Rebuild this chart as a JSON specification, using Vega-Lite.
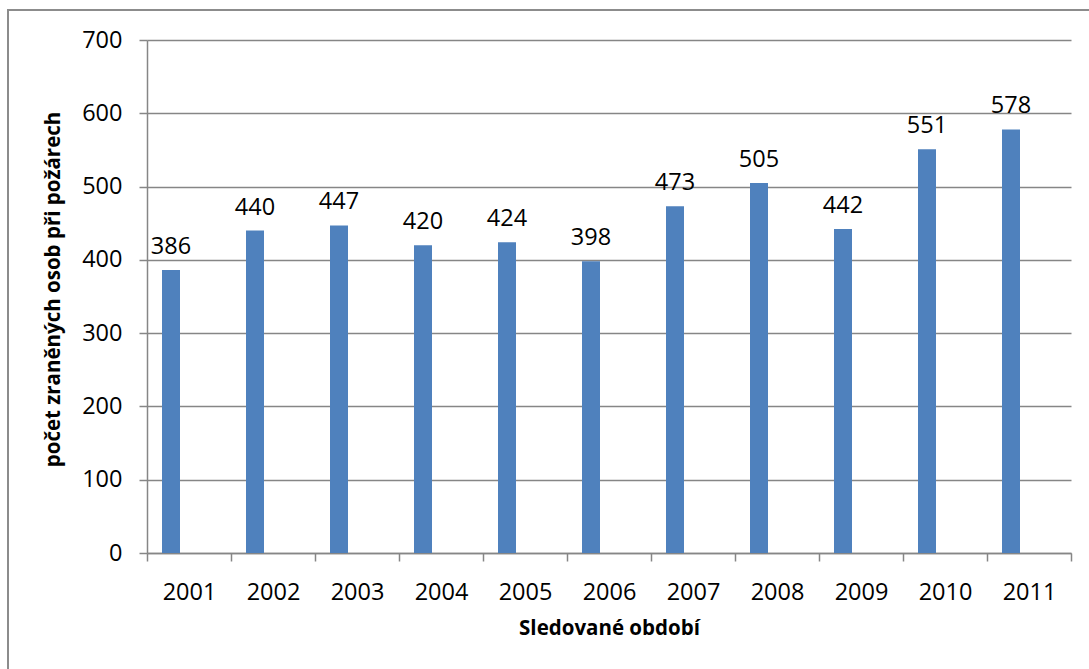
{
  "$schema": "https://vega.github.io/schema/vega-lite/v6.json",
  "width": 924,
  "height": 513,
  "autosize": {"type": "none"},
  "padding": {"left": 147, "top": 40, "right": 18, "bottom": 116},
  "background": "white",
  "config": {
    "view": {"stroke": null},
    "font": "Open Sans"
  },
  "data": {
    "values": [
      {"year": "2001", "value": 386, "series": "A"},
      {"year": "2002", "value": 440, "series": "A"},
      {"year": "2003", "value": 447, "series": "A"},
      {"year": "2004", "value": 420, "series": "A"},
      {"year": "2005", "value": 424, "series": "A"},
      {"year": "2006", "value": 398, "series": "A"},
      {"year": "2007", "value": 473, "series": "A"},
      {"year": "2008", "value": 505, "series": "A"},
      {"year": "2009", "value": 442, "series": "A"},
      {"year": "2010", "value": 551, "series": "A"},
      {"year": "2011", "value": 578, "series": "A"}
    ]
  },
  "encoding": {
    "x": {
      "field": "year",
      "type": "nominal",
      "scale": {"paddingInner": 0, "paddingOuter": 0},
      "axis": {
        "title": "Sledované období",
        "titleFont": "Open Sans",
        "titleFontSize": 20.5,
        "titleFontWeight": "bold",
        "titleColor": "black",
        "titlePadding": 15,
        "labelAngle": 0,
        "labelFont": "Open Sans",
        "labelFontSize": 23.5,
        "labelColor": "black",
        "labelPadding": 19,
        "tickBand": "extent",
        "tickSize": 8,
        "tickColor": "#868686",
        "tickWidth": 1.5,
        "domainColor": "#868686",
        "domainWidth": 1.5,
        "grid": false
      }
    },
    "xOffset": {
      "field": "series",
      "type": "nominal",
      "scale": {"domain": ["A", "B"], "paddingInner": 0.5, "paddingOuter": 0.4167}
    },
    "y": {
      "field": "value",
      "type": "quantitative",
      "scale": {"domain": [0, 700], "nice": false},
      "axis": {
        "title": "počet zraněných osob při požárech",
        "titleFont": "Open Sans",
        "titleFontSize": 20.5,
        "titleFontWeight": "bold",
        "titleColor": "black",
        "titlePadding": 18,
        "titleY": 249,
        "values": [0, 100, 200, 300, 400, 500, 600, 700],
        "labelFont": "Open Sans",
        "labelFontSize": 23.5,
        "labelColor": "black",
        "labelPadding": 17,
        "tickSize": 8,
        "tickColor": "#868686",
        "tickWidth": 1.5,
        "domainColor": "#868686",
        "domainWidth": 1.5,
        "grid": true,
        "gridColor": "#868686",
        "gridWidth": 1.5
      }
    }
  },
  "layer": [
    {
      "mark": {
        "type": "rect",
        "fill": null,
        "stroke": "#8c8c8c",
        "strokeWidth": 1.5,
        "clip": false
      },
      "encoding": {
        "x": {"value": -139},
        "y": {"value": -30},
        "x2": {"value": 1000},
        "y2": {"value": 700},
        "xOffset": null
      }
    },
    {
      "mark": {"type": "bar", "color": "#4F81BD"}
    },
    {
      "mark": {
        "type": "text",
        "baseline": "alphabetic",
        "align": "center",
        "dy": -16,
        "fontSize": 23.5,
        "font": "Open Sans",
        "color": "black"
      },
      "encoding": {
        "text": {"field": "value", "type": "quantitative"}
      }
    }
  ]
}
